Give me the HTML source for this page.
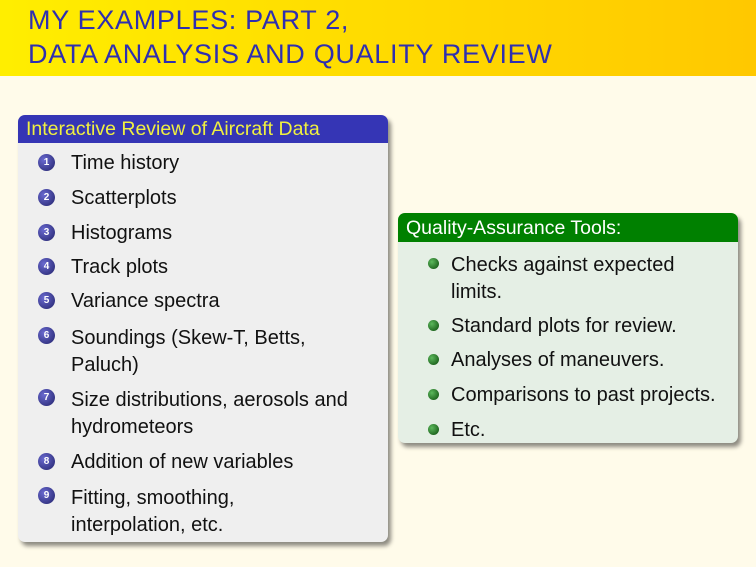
<!DOCTYPE html>
<html><head><meta charset="utf-8"><style>
body{margin:0;width:756px;height:567px;background:#fffbea;font-family:"Liberation Sans",sans-serif;position:relative;overflow:hidden}
#title{position:absolute;left:0;top:0;width:756px;height:76px;background:linear-gradient(90deg,#ffee00,#ffc800)}
.tt{position:absolute;left:28px;font-size:27px;color:#2f2fb0;letter-spacing:0.7px}
.box{position:absolute;border-radius:7px;box-shadow:3px 4px 4px rgba(0,0,0,0.45);overflow:hidden}
.hd{position:absolute;left:0;right:0;top:0;font-size:19.5px;padding-left:8px}
.it{position:absolute;font-size:20px;color:#111}
.num{position:absolute;width:17px;height:17px;border-radius:50%;background:radial-gradient(circle at 35% 35%,#6a6ad0,#22226a);color:#fff;font-size:10px;font-weight:bold;text-align:center;line-height:17px}
.dot{position:absolute;width:11px;height:11px;border-radius:50%;background:radial-gradient(circle at 35% 35%,#5cb85c,#0a4a0a)}
</style></head><body>
<div id="title">
<div class="tt" style="top:5px">MY EXAMPLES: PART 2,</div>
<div class="tt" style="top:39px">DATA ANALYSIS AND QUALITY REVIEW</div>
</div>

<div class="box" style="left:18px;top:115px;width:370px;height:427px;background:#efefef">
<div class="hd" style="height:28px;background:#3535b5;color:#f0f040;line-height:29px">Interactive Review of Aircraft Data</div>
</div>
<div class="num" style="left:38px;top:154px">1</div><div class="it" style="left:71px;top:152px">Time history</div>
<div class="num" style="left:38px;top:189px">2</div><div class="it" style="left:71px;top:187px">Scatterplots</div>
<div class="num" style="left:38px;top:224px">3</div><div class="it" style="left:71px;top:222px">Histograms</div>
<div class="num" style="left:38px;top:258px">4</div><div class="it" style="left:71px;top:256px">Track plots</div>
<div class="num" style="left:38px;top:292px">5</div><div class="it" style="left:71px;top:290px">Variance spectra</div>
<div class="num" style="left:38px;top:327px">6</div><div class="it" style="left:71px;top:325px;line-height:27px">Soundings (Skew-T, Betts,<br>Paluch)</div>
<div class="num" style="left:38px;top:389px">7</div><div class="it" style="left:71px;top:387px;line-height:27px">Size distributions, aerosols and<br>hydrometeors</div>
<div class="num" style="left:38px;top:453px">8</div><div class="it" style="left:71px;top:451px">Addition of new variables</div>
<div class="num" style="left:38px;top:487px">9</div><div class="it" style="left:71px;top:485px;line-height:27px">Fitting, smoothing,<br>interpolation, etc.</div>

<div class="box" style="left:398px;top:213px;width:340px;height:230px;background:#e5efe5">
<div class="hd" style="height:29px;background:#008000;color:#fff;line-height:30px">Quality-Assurance Tools:</div>
</div>
<div class="dot" style="left:428px;top:258px"></div><div class="it" style="left:451px;top:252px;line-height:27px">Checks against expected<br>limits.</div>
<div class="dot" style="left:428px;top:320px"></div><div class="it" style="left:451px;top:315px">Standard plots for review.</div>
<div class="dot" style="left:428px;top:354px"></div><div class="it" style="left:451px;top:349px">Analyses of maneuvers.</div>
<div class="dot" style="left:428px;top:389px"></div><div class="it" style="left:451px;top:384px">Comparisons to past projects.</div>
<div class="dot" style="left:428px;top:424px"></div><div class="it" style="left:451px;top:419px">Etc.</div>
</body></html>
